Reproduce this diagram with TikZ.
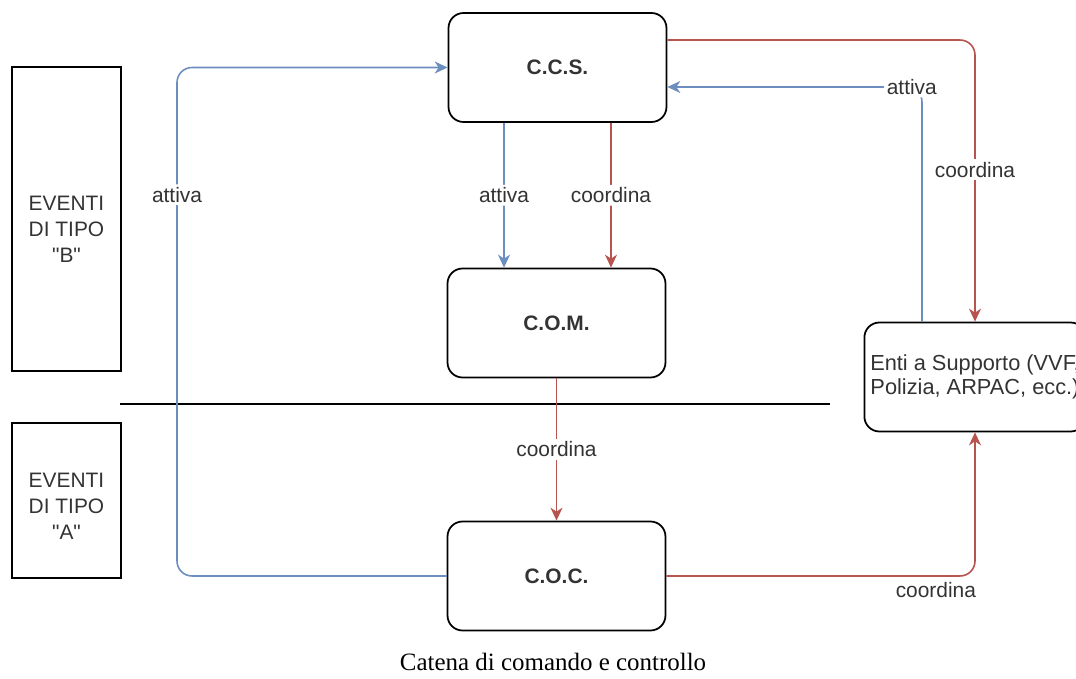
\documentclass[tikz,border=0pt]{standalone}
\usepackage{fontspec}
\setmainfont{Liberation Sans}
\newfontfamily\capfont{Liberation Serif}
\usetikzlibrary{arrows.meta,calc}
\definecolor{blu}{HTML}{6C8EBF}
\definecolor{rosso}{HTML}{B85450}
\definecolor{testo}{HTML}{333333}

\begin{document}
\begin{tikzpicture}[x=0.02cm,y=-0.02cm,
    font=\fontsize{11.9}{14.5}\selectfont,
    box/.style={draw,line width=1pt,rounded corners=0.3cm,minimum width=4.36cm,minimum height=2.18cm,align=center,text=testo},
    evento/.style={draw,line width=0.9pt,minimum width=2.18cm},
    evtesto/.style={align=center,text=testo,font=\fontsize{11.9}{14.8}\selectfont},
    conn/.style={line width=0.9pt,rounded corners=0.3cm,-{Stealth[length=0.26cm,width=0.24cm,inset=0.08cm]}},
    lbl/.style={fill=white,inner sep=1.5pt,text=testo}]
          \useasboundingbox (0,0) rectangle (1076,679);
          % blocchi
          \node[box] (ccs) at (557.5,67.5) {\textbf{C.C.S.}};
          \node[box] (com) at (556.5,323) {\textbf{C.O.M.}};
          \node[box] (coc) at (556.5,576) {\textbf{C.O.C.}};
          \node[box,font=\fontsize{12.4}{13.3}\selectfont] (enti) at (975,377) {Enti a Supporto (VVF,\\Polizia, ARPAC, ecc.)};
          \node[evento,minimum height=6.08cm] (evB) at (66.5,219) {};
          \node[evtesto] (evBt) at (66.5,229) {EVENTI\\DI TIPO\\\textquotedbl B\textquotedbl};
          \node[evento,minimum height=3.1cm] (evA) at (66.5,500.5) {};
          \node[evtesto] (evAt) at (66.5,506) {EVENTI\\DI TIPO\\\textquotedbl A\textquotedbl};
          \draw[line width=1.7pt] (120,404) -- (830,404);
          % collegamenti
          \draw[conn,blu] (coc.west) -- (177,576) -- node[lbl,pos=0.75]{attiva} (177,67.5) -- (ccs.west);
          \draw[conn,blu] ([xshift=-1.07cm]ccs.south) -- node[lbl]{attiva} ([xshift=-1.05cm]com.north);
          \draw[conn,rosso] ([xshift=1.07cm]ccs.south) -- node[lbl]{coordina} ([xshift=1.09cm]com.north);
          \draw[conn,rosso] (com.south) -- node[lbl]{coordina} (coc.north);
          \draw[conn,rosso] ([yshift=0.55cm]ccs.east) -| node[lbl,pos=0.73]{coordina} (enti.north);
          \draw[conn,blu] ([xshift=-1.06cm]enti.north) |- node[lbl,pos=0.52]{attiva} ([yshift=-0.39cm]ccs.east);
          \draw[conn,rosso] (coc.east) -| node[pos=0.5,anchor=north east,inner sep=1pt,xshift=2pt,yshift=-2pt,text=testo]{coordina} (enti.south);
          % didascalia
          \node[font=\capfont\fontsize{14.2}{16}\selectfont] (cap) at (553,662) {Catena di comando e controllo};
        \end{tikzpicture}
\end{document}
